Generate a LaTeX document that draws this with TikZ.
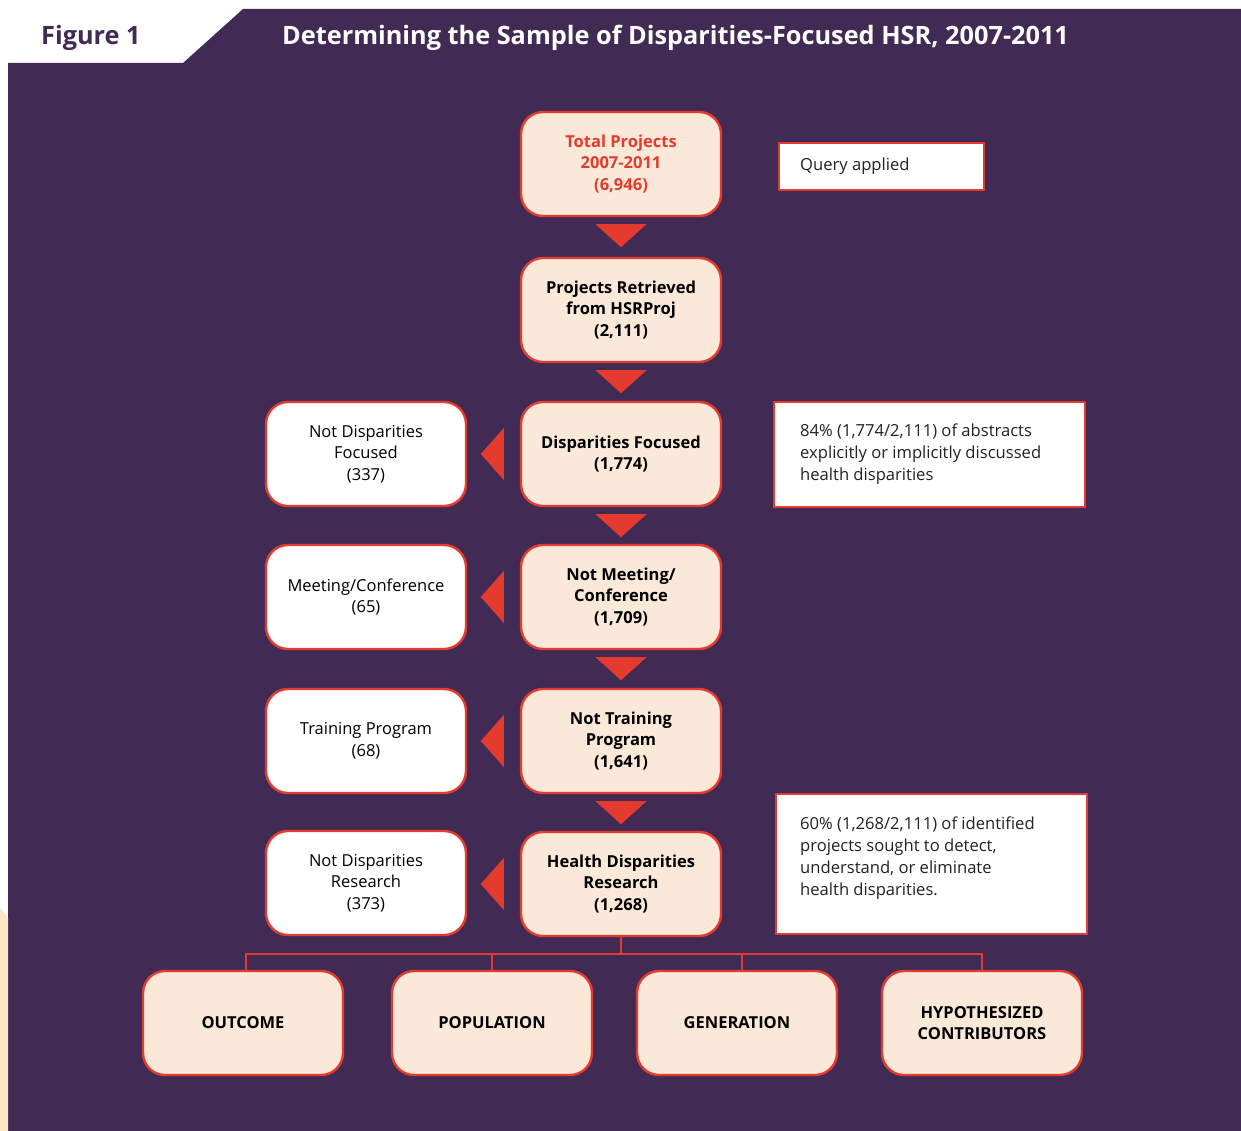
\documentclass[tikz,border=0pt]{standalone}
\usepackage{fontspec}
\setmainfont{Open Sans}
\usetikzlibrary{calc}
\definecolor{bgpurple}{HTML}{412B55}
\definecolor{cream}{HTML}{FAE8D8}
\definecolor{boxred}{HTML}{E53B2F}
\definecolor{stripcream}{HTML}{FDE6C4}
\definecolor{notegray}{HTML}{222222}
\tikzset{
  cbox/.style={draw=boxred, line width=2.4pt, fill=cream, rounded corners=22pt,
    minimum width=200pt, minimum height=104pt, align=center, font=\fontsize{16.5}{21.7}\selectfont\bfseries, text=black, inner sep=2pt},
  wbox/.style={cbox, fill=white, font=\fontsize{16.5}{21.7}\selectfont},
  nbox/.style={draw=boxred, line width=2.2pt, fill=white, anchor=north west, inner sep=0pt},
  ntext/.style={anchor=north west, align=left, inner sep=0pt, font=\fontsize{16.6}{21.9}\selectfont, text=notegray},
  tri/.style={fill=boxred},
  link/.style={draw=boxred, line width=2pt},
}
\begin{document}
\begin{tikzpicture}[x=1pt,y=-1pt]
\useasboundingbox (0,0) rectangle (1241,1131);
\fill[white] (0,0) rectangle (1241,1131);
% background
\fill[bgpurple] (8,63) -- (183,63) -- (243,9) -- (1241,9) -- (1241,1131) -- (8,1131) -- cycle;
\fill[stripcream] (0,908) -- (8,918) -- (8,1131) -- (0,1131) -- cycle;
% header
\node[anchor=west, inner sep=0pt, text=bgpurple, font=\fontsize{25.3}{30}\selectfont\bfseries] (fig) at (41,38) {Figure 1};
\node[anchor=west, inner sep=0pt, text=white, font=\fontsize{25.3}{30}\selectfont\bfseries] (title) at (282,38) {Determining the Sample of Disparities-Focused HSR, 2007-2011};
% center column
\node[cbox, text=boxred] (total) at (621,164) {Total Projects\\2007-2011\\(6,946)};
\node[cbox] (retr) at (621,310) {Projects Retrieved\\from HSRProj\\(2,111)};
\node[cbox] (focus) at (621,454) {Disparities Focused\\(1,774)};
\node[cbox] (meet) at (621,597) {Not Meeting/\\Conference\\(1,709)};
\node[cbox] (train) at (621,741) {Not Training\\Program\\(1,641)};
\node[cbox] (hdr) at (621,884) {Health Disparities\\Research\\(1,268)};
% left column
\node[wbox] (nfocus) at (366,454) {Not Disparities\\Focused\\(337)};
\node[wbox] (nmeet) at (366,597) {Meeting/Conference\\(65)};
\node[wbox] (ntrain) at (366,741) {Training Program\\(68)};
\node[wbox] (nres) at (366,883) {Not Disparities\\Research\\(373)};
% bottom row
\node[cbox] (outc) at (243,1023) {OUTCOME};
\node[cbox] (popu) at (492,1023) {POPULATION};
\node[cbox] (gene) at (737,1023) {GENERATION};
\node[cbox] (hypo) at (982,1023) {HYPOTHESIZED\\CONTRIBUTORS};
% notes
\node[nbox, minimum width=205pt, minimum height=47pt] (n1) at (778,142) {};
\node[ntext, anchor=west] (n1t) at (800,166) {Query applied};
\node[nbox, minimum width=311pt, minimum height=105pt] (n2) at (773,401) {};
\node[ntext] (n2t) at (800,424) {84\% (1,774/2,111) of abstracts\\explicitly or implicitly discussed\\health disparities};
\node[nbox, minimum width=311pt, minimum height=140pt] (n3) at (775,793) {};
\node[ntext] (n3t) at (800,817) {60\% (1,268/2,111) of identified\\projects sought to detect,\\understand, or eliminate\\health disparities.};
% down triangles
\foreach \a in {total,retr,focus,meet,train}{
  \fill[tri] ($(\a.south)+(-25.5,7)$) -- ($(\a.south)+(25.5,7)$) -- ($(\a.south)+(0,30)$) -- cycle;
}
% left triangles
\foreach \a in {focus,meet,train,hdr}{
  \fill[tri] ($(\a.west)+(-16,-26)$) -- ($(\a.west)+(-16,26)$) -- ($(\a.west)+(-39,0)$) -- cycle;
}
% tree connector
\coordinate (bus) at (621,954);
\draw[link] (hdr.south) -- (bus);
\draw[link] (outc.north -| 246,0) |- (bus) -| (hypo.north);
\draw[link] (popu.north) -- (popu.north |- bus);
\draw[link] ($(gene.north)+(5,0)$) -- ($(gene.north |- bus)+(5,0)$);
\end{tikzpicture}
\end{document}
